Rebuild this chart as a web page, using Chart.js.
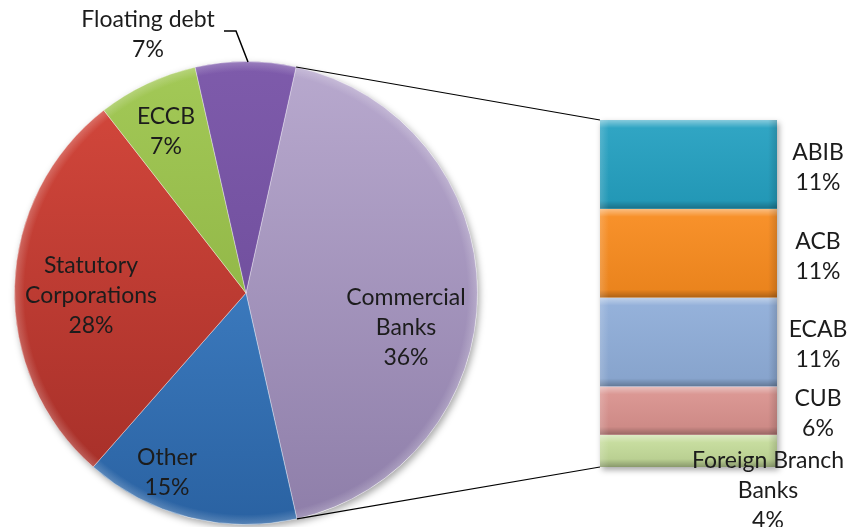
<!DOCTYPE html>
<html>
<head>
<meta charset="utf-8">
<script src="https://cdn.jsdelivr.net/npm/chart.js@4.4.1/dist/chart.umd.min.js"></script>
<style>
  html, body { margin: 0; padding: 0; background: #fff; }
  #wrap { position: relative; width: 850px; height: 527px; }
  #wrap canvas { position: absolute; left: 0; top: 0; }
</style>
</head>
<body>
<div id="wrap">
  <canvas id="pieChart" width="850" height="527"></canvas>
  <canvas id="barChart" width="850" height="527"></canvas>
</div>
<script>
"use strict";

// breakdown of the commercial banks (stacked bar, top to bottom)
const bankNames = ["ABIB", "ACB", "ECAB", "CUB", "Foreign Branch Banks"];
const bankValues = [11, 11, 11, 6, 4];

// main pie, clockwise from the commercial banks slice
const holderNames = ["Commercial Banks", "Other", "Statutory Corporations", "ECCB", "Floating debt"];
const holderShares = [36, 15, 28, 7, 7];
// the commercial banks slice is the total of its breakdown
const holderValues = [bankValues.reduce((a, b) => a + b, 0), 15, 28, 7, 7];

const FONT = "23px Lato";
const TEXT = "#1c1c1c";
const LINE_H = 30;

const pieColors = [
  ["#b8a9ce", "#8e7ea9"],
  ["#4b8fd6", "#2a62a2"],
  ["#d6493d", "#a22d27"],
  ["#a3c957", "#83a83a"],
  ["#7e5bab", "#654592"]
];
const barColors = ["#25a0c0", "#f78b1f", "#8fadd8", "#d9928e", "#c4db9a"];

// label block centres, offset from the pie centre
const pieLabelOffsets = [[160, 35], [-79, 180], [-155, 3], [-80, -161], [-98, -258]];

function splitName(name) {
  if (name === "Statutory Corporations") return ["Statutory", "Corporations"];
  if (name === "Commercial Banks") return ["Commercial", "Banks"];
  if (name === "Foreign Branch Banks") return ["Foreign Branch", "Banks"];
  return [name];
}

function drawBlock(ctx, lines, cx, cy) {
  ctx.save();
  ctx.font = FONT;
  ctx.fillStyle = TEXT;
  ctx.textAlign = "center";
  ctx.textBaseline = "middle";
  let y0 = cy - (lines.length - 1) * LINE_H / 2;
  lines.forEach((t, i) => ctx.fillText(t, cx, y0 + i * LINE_H));
  ctx.restore();
}

// vertical gradient over the whole pie, per slice colour pair
function sliceFill(c) {
  let pair = pieColors[c.dataIndex] || pieColors[0];
  let area = c.chart.chartArea;
  if (!area) return pair[0];
  let g = c.chart.ctx.createLinearGradient(0, area.top, 0, area.bottom);
  g.addColorStop(0, pair[0]);
  g.addColorStop(1, pair[1]);
  return g;
}

const pieShadow = {
  id: "pieShadow",
  beforeDatasetsDraw(chart) {
    let arc = chart.getDatasetMeta(0).data[0];
    let ctx = chart.ctx;
    ctx.save();
    ctx.shadowColor = "rgba(0,0,0,0.35)";
    ctx.shadowBlur = 7;
    ctx.shadowOffsetX = 2;
    ctx.shadowOffsetY = 3;
    ctx.fillStyle = "#fff";
    ctx.beginPath();
    ctx.arc(arc.x, arc.y, arc.outerRadius, 0, Math.PI * 2);
    ctx.fill();
    ctx.restore();
  }
};

const pieLabels = {
  id: "pieLabels",
  afterDatasetsDraw(chart) {
    let ctx = chart.ctx;
    let arcs = chart.getDatasetMeta(0).data;
    let cx = arcs[0].x, cy = arcs[0].y;

    // rim highlight along the edge of the pie
    let R = arcs[0].outerRadius;
    let rim = ctx.createRadialGradient(cx, cy, R - 10, cx, cy, R);
    rim.addColorStop(0, "rgba(255,255,255,0)");
    rim.addColorStop(1, "rgba(255,255,255,0.22)");
    ctx.save();
    ctx.fillStyle = rim;
    ctx.beginPath();
    ctx.arc(cx, cy, R, 0, Math.PI * 2);
    ctx.arc(cx, cy, R - 10, 0, Math.PI * 2, true);
    ctx.fill();
    ctx.restore();

    holderNames.forEach((name, i) => {
      let off = pieLabelOffsets[i];
      let lines = splitName(name).concat([holderShares[i] + "%"]);
      drawBlock(ctx, lines, cx + off[0], cy + off[1]);
    });

    // leader line for the floating debt label
    ctx.save();
    ctx.strokeStyle = "#000";
    ctx.lineWidth = 1.5;
    ctx.beginPath();
    ctx.moveTo(cx - 22, cy - 262);
    ctx.lineTo(cx - 10, cy - 262);
    ctx.lineTo(cx + 2, cy - 231);
    ctx.stroke();
    ctx.restore();
  }
};

const pieChart = new Chart(document.getElementById("pieChart"), {
  type: "pie",
  data: {
    labels: holderNames,
    datasets: [{
      data: holderValues,
      backgroundColor: sliceFill,
      borderColor: "rgba(255,255,255,0.35)",
      borderWidth: 1
    }]
  },
  options: {
    responsive: false,
    animation: false,
    rotation: 12.5,
    layout: { padding: { top: 61, bottom: 2, left: 14, right: 372 } },
    plugins: {
      legend: { display: false },
      tooltip: { enabled: false }
    }
  },
  plugins: [pieShadow, pieLabels]
});

const barBevel = {
  id: "barBevel",
  beforeDatasetsDraw(chart) {
    let a = chart.chartArea;
    let ctx = chart.ctx;
    ctx.save();
    ctx.shadowColor = "rgba(0,0,0,0.35)";
    ctx.shadowBlur = 6;
    ctx.shadowOffsetX = 2;
    ctx.shadowOffsetY = 3;
    ctx.fillStyle = "#fff";
    ctx.fillRect(a.left, a.top, a.right - a.left, a.bottom - a.top);
    ctx.restore();
  },
  afterDatasetsDraw(chart) {
    let ctx = chart.ctx;
    chart.data.datasets.forEach((ds, d) => {
      let bar = chart.getDatasetMeta(d).data[0];
      let left = bar.x - bar.width / 2;
      let top = Math.min(bar.y, bar.base);
      let h = Math.abs(bar.base - bar.y);
      let g = ctx.createLinearGradient(0, top, 0, top + h);
      let edge = Math.min(8 / h, 0.3);
      g.addColorStop(0, "rgba(255,255,255,0.45)");
      g.addColorStop(edge, "rgba(255,255,255,0.05)");
      g.addColorStop(1 - edge, "rgba(0,0,0,0.05)");
      g.addColorStop(1, "rgba(0,0,0,0.3)");
      ctx.save();
      ctx.fillStyle = g;
      ctx.fillRect(left, top, bar.width, h);
      let side = ctx.createLinearGradient(left, 0, left + bar.width, 0);
      side.addColorStop(0, "rgba(255,255,255,0.18)");
      side.addColorStop(0.05, "rgba(255,255,255,0)");
      side.addColorStop(0.95, "rgba(0,0,0,0)");
      side.addColorStop(1, "rgba(0,0,0,0.15)");
      ctx.fillStyle = side;
      ctx.fillRect(left, top, bar.width, h);
      ctx.restore();
    });
  }
};

const barLabels = {
  id: "barLabels",
  afterDraw(chart) {
    let ctx = chart.ctx;
    chart.data.datasets.forEach((ds, d) => {
      let bar = chart.getDatasetMeta(d).data[0];
      let mid = (bar.y + bar.base) / 2;
      let lines = splitName(ds.label).concat([ds.data[0] + "%"]);
      let right = bar.x + bar.width / 2;
      if (lines.length > 2) {
        drawBlock(ctx, lines, right - 9, mid + 40);
      } else {
        drawBlock(ctx, lines, right + 41, mid + 3);
      }
    });

    // connector lines from the commercial banks slice to the bar
    let arc = pieChart.getDatasetMeta(0).data[0];
    let topBar = chart.getDatasetMeta(0).data[0];
    let lowBar = chart.getDatasetMeta(bankNames.length - 1).data[0];
    let barLeft = topBar.x - topBar.width / 2;
    let p1 = [arc.x + arc.outerRadius * Math.cos(arc.startAngle), arc.y + arc.outerRadius * Math.sin(arc.startAngle)];
    let p2 = [arc.x + arc.outerRadius * Math.cos(arc.endAngle), arc.y + arc.outerRadius * Math.sin(arc.endAngle)];
    ctx.save();
    ctx.strokeStyle = "#000";
    ctx.lineWidth = 1.2;
    ctx.beginPath();
    ctx.moveTo(p1[0], p1[1]);
    ctx.lineTo(barLeft, Math.min(topBar.y, topBar.base));
    ctx.moveTo(p2[0], p2[1]);
    ctx.lineTo(barLeft, Math.max(lowBar.y, lowBar.base));
    ctx.stroke();
    ctx.restore();
  }
};

new Chart(document.getElementById("barChart"), {
  type: "bar",
  data: {
    labels: [""],
    datasets: bankNames.map((name, i) => ({
      label: name,
      data: [bankValues[i]],
      backgroundColor: barColors[i],
      borderWidth: 0,
      barPercentage: 1,
      categoryPercentage: 1
    }))
  },
  options: {
    responsive: false,
    animation: false,
    layout: { padding: { top: 120, bottom: 60, left: 600, right: 73 } },
    scales: {
      x: { stacked: true, display: false },
      y: { stacked: true, display: false, reverse: true, min: 0, max: holderValues[0] }
    },
    plugins: {
      legend: { display: false },
      tooltip: { enabled: false }
    }
  },
  plugins: [barBevel, barLabels]
});
</script>
</body>
</html>
